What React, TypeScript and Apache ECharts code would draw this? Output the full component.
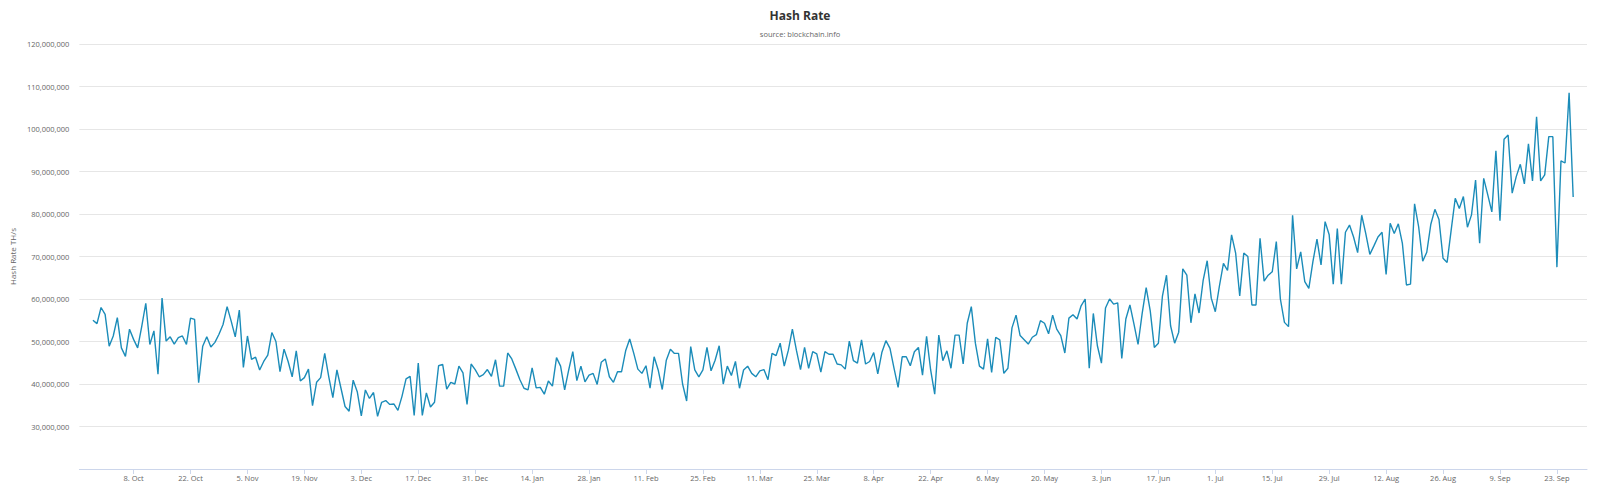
import React, { useEffect, useRef } from "react";
import * as echarts from "echarts";

const MONTHS = ["Jan", "Feb", "Mar", "Apr", "May", "Jun", "Jul", "Aug", "Sep", "Oct", "Nov", "Dec"];
const DAY = 86400000;
const START_DATE = Date.UTC(2018, 8, 28);
const FIRST_TICK = Date.UTC(2018, 9, 8);
const TICK_COUNT = 26;
const TICK_STEP_DAYS = 14;

const TITLE = "Hash Rate";
const SUBTITLE = "source: blockchain.info";
const Y_NAME = "Hash Rate TH/s";

// daily hash rate in millions of TH/s, starting 28 Sep 2018
const HASH_RATE_M = [
  55.0, 54.2, 58.0, 56.4, 48.9, 51.3, 55.6, 48.5, 46.5, 52.9,
  50.5, 48.5, 53.5, 59.0, 49.3, 52.5, 42.3, 60.2, 50.1, 51.1,
  49.4, 50.9, 51.3, 49.3, 55.5, 55.2, 40.3, 48.9, 51.1, 48.7,
  49.8, 51.7, 54.0, 58.2, 54.8, 51.1, 57.4, 43.9, 51.3, 45.8,
  46.3, 43.3, 45.3, 46.8, 52.1, 50.0, 42.9, 48.2, 45.3, 41.7,
  47.8, 40.7, 41.5, 43.5, 34.9, 40.4, 41.5, 47.2, 41.7, 36.8,
  43.3, 39.0, 34.7, 33.6, 40.9, 38.2, 32.5, 38.6, 36.6, 38.0,
  32.4, 35.7, 36.1, 35.2, 35.3, 33.8, 37.1, 41.2, 41.8, 32.6,
  44.9, 32.6, 37.9, 34.6, 35.7, 44.3, 44.6, 38.8, 40.4, 40.0,
  44.2, 42.6, 35.2, 44.7, 43.4, 41.7, 42.2, 43.4, 41.8, 45.7,
  39.5, 39.5, 47.3, 45.9, 43.5, 41.0, 39.0, 38.6, 43.8, 39.1,
  39.2, 37.6, 40.7, 39.5, 46.2, 44.2, 38.6, 43.3, 47.6, 40.8,
  44.2, 40.5, 42.1, 42.5, 39.9, 45.1, 45.9, 41.7, 40.4, 42.9,
  42.9, 47.8, 50.6, 47.2, 43.5, 42.5, 44.3, 39.0, 46.4, 43.3,
  38.7, 45.6, 48.2, 47.2, 47.2, 40.0, 36.0, 48.8, 43.3, 41.7,
  43.3, 48.6, 43.1, 45.6, 49.0, 40.0, 44.2, 42.0, 45.3, 39.0,
  43.3, 44.2, 42.5, 41.7, 43.1, 43.4, 41.0, 47.2, 46.7, 49.6,
  44.2, 47.9, 52.9, 47.9, 43.4, 48.6, 43.7, 47.6, 47.1, 42.8,
  47.6, 47.0, 47.0, 44.7, 44.5, 43.5, 50.1, 45.5, 44.9, 50.4,
  44.7, 45.3, 47.4, 42.4, 47.4, 50.2, 48.4, 43.7, 39.2, 46.4,
  46.4, 44.3, 47.6, 48.6, 42.1, 51.2, 43.3, 37.6, 51.5, 45.5,
  47.8, 43.7, 51.5, 51.5, 44.7, 54.3, 58.2, 49.6, 44.2, 43.5,
  50.6, 42.7, 51.0, 50.4, 42.5, 43.7, 53.2, 56.2, 51.4, 50.4,
  49.4, 51.0, 51.6, 54.9, 54.3, 51.8, 56.2, 52.9, 51.4, 47.3,
  55.5, 56.3, 55.3, 58.4, 60.0, 43.7, 56.6, 49.0, 44.9, 57.9,
  60.0, 58.8, 59.1, 46.0, 55.3, 58.6, 54.1, 49.3, 56.5, 62.7,
  57.2, 48.6, 49.6, 60.7, 65.6, 53.7, 49.6, 52.2, 67.1, 65.6,
  54.4, 61.2, 56.7, 64.3, 69.0, 60.2, 57.0, 63.0, 68.4, 66.7,
  75.1, 70.8, 60.7, 70.8, 70.0, 58.6, 58.6, 74.3, 64.2, 65.6,
  66.4, 73.5, 60.0, 54.5, 53.5, 79.7, 67.1, 71.1, 64.1, 62.5,
  68.8, 74.1, 68.0, 78.2, 75.1, 63.5, 76.6, 63.5, 75.7, 77.4,
  74.6, 70.9, 79.7, 75.4, 70.5, 72.5, 74.6, 75.7, 65.8, 77.8,
  75.4, 77.7, 73.1, 63.3, 63.5, 82.4, 77.0, 68.9, 71.0, 77.6,
  81.1, 78.7, 69.6, 68.6, 76.2, 83.7, 81.3, 84.1, 76.9, 79.8,
  88.0, 73.1, 88.4, 84.5, 80.5, 94.9, 78.4, 97.6, 98.6, 84.9,
  88.8, 91.7, 87.1, 96.5, 87.8, 102.9, 87.8, 89.2, 98.2, 98.2,
  67.5, 92.5, 92.0, 108.5, 84.0,
];

const Y_MIN = 20000000;
const Y_MAX = 120000000;
const Y_STEP = 10000000;

export default function App() {
  const ref = useRef<HTMLDivElement>(null);

  useEffect(() => {
    if (!ref.current) return;
    const chart = echarts.init(ref.current, undefined, { renderer: "svg" });
    const data = HASH_RATE_M.map((v, i) => [START_DATE + i * DAY, v * 1000000]);
    const ticks: number[] = [];
    for (let k = 0; k < TICK_COUNT; k++) ticks.push(FIRST_TICK + k * TICK_STEP_DAYS * DAY);
    const font = "'Open Sans', 'Lucida Grande', Arial, sans-serif";

    chart.setOption({
      animation: false,
      backgroundColor: "#ffffff",
      textStyle: { fontFamily: font },
      title: [
        {
          text: TITLE,
          left: "center",
          top: 4,
          textStyle: { fontSize: 12, fontWeight: "bold", color: "#333333", fontFamily: font },
        },
        {
          text: SUBTITLE,
          left: "center",
          top: 25,
          textStyle: { fontSize: 7.5, fontWeight: "normal", color: "#666666", fontFamily: font },
        },
      ],
      grid: { left: 77, right: 13, top: 44, bottom: 23, containLabel: false },
      xAxis: {
        type: "value",
        min: START_DATE - 3.33 * DAY,
        max: START_DATE + 367.4 * DAY,
        axisLine: { show: true, lineStyle: { color: "#ccd6eb", width: 1 } },
        axisTick: { show: true, customValues: ticks, length: 5, lineStyle: { color: "#ccd6eb" } },
        axisLabel: {
          customValues: ticks,
          margin: 5,
          fontSize: 7.5,
          color: "#666666",
          fontFamily: font,
          formatter: (v: number) => {
            const d = new Date(v);
            return `${d.getUTCDate()}. ${MONTHS[d.getUTCMonth()]}`;
          },
        },
        splitLine: { show: false },
      },
      yAxis: {
        type: "value",
        min: Y_MIN,
        max: Y_MAX,
        interval: Y_STEP,
        name: Y_NAME,
        nameLocation: "middle",
        nameGap: 60,
        nameRotate: 90,
        nameTextStyle: { fontSize: 8, color: "#666666", fontFamily: font },
        axisLine: { show: false },
        axisTick: { show: false },
        axisLabel: {
          margin: 10,
          fontSize: 7.5,
          color: "#666666",
          fontFamily: font,
          formatter: (v: number) => (v === Y_MIN ? "" : v.toLocaleString("en-US")),
        },
        splitLine: { show: true, lineStyle: { color: "#e6e6e6", width: 1 } },
      },
      series: [
        {
          type: "line",
          name: Y_NAME,
          data,
          showSymbol: false,
          symbol: "none",
          lineStyle: { color: "#1b8cb9", width: 1.4 },
          itemStyle: { color: "#1b8cb9" },
        },
      ],
    });

    return () => chart.dispose();
  }, []);

  return (
    <div
      ref={ref}
      style={{ position: "fixed", left: 0, top: 0, width: "1600px", height: "492px", background: "#fff" }}
    />
  );
}
